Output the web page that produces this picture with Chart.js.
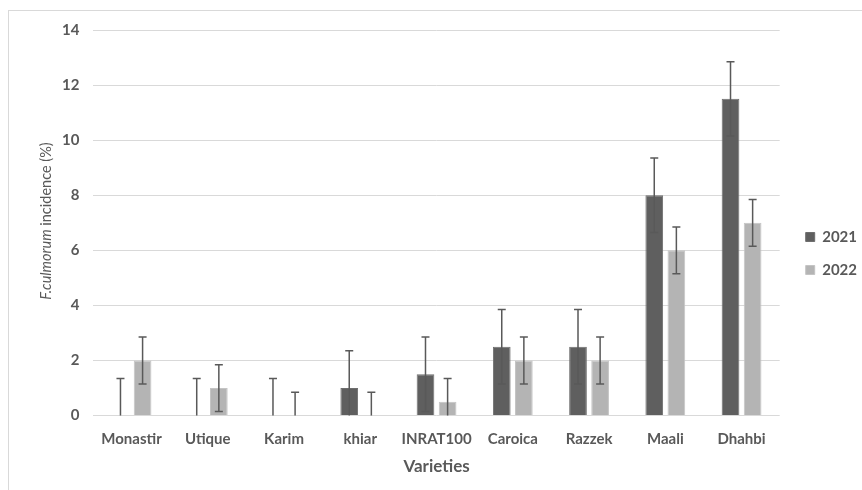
<!DOCTYPE html>
<html lang="en">
<head>
  <meta charset="UTF-8">
  <title>F.culmorum incidence</title>
  <script src="https://cdn.jsdelivr.net/npm/chart.js"></script>
  <style>
    body {
      margin: 0;
      background: #ffffff;
      font-family: 'Lato', sans-serif;
    }
    #wrap {
      position: relative;
      width: 862px;
      height: 490px;
    }
    #frame {
      position: absolute;
      left: 8px;
      top: 10px;
      width: 900px;
      height: 520px;
      border: 1px solid #d9d9d9;
      pointer-events: none;
    }
    #ytitle {
      position: absolute;
      left: 45px;
      top: 221px;
      transform: translate(-50%, -50%) rotate(-90deg);
      white-space: nowrap;
      font-size: 14.5px;
      color: #595959;
    }
  </style>
</head>
<body>
  <div id="wrap">
    <canvas id="chart" width="862" height="490"></canvas>
    <div id="frame"></div>
    <div id="ytitle"><i>F.culmorum</i> incidence (%)</div>
  </div>

  <script>
    const varieties = ['Monastir', 'Utique', 'Karim', 'khiar', 'INRAT100', 'Caroica', 'Razzek', 'Maali', 'Dhahbi'];
    const values2021 = [0, 0, 0, 1, 1.5, 2.5, 2.5, 8, 11.5];
    const values2022 = [2, 1, 0, 0, 0.5, 2, 2, 6, 7];
    const err2021 = [1.35, 1.35, 1.35, 1.35, 1.35, 1.35, 1.35, 1.35, 1.35];
    const err2022 = [0.85, 0.85, 0.85, 0.85, 0.85, 0.85, 0.85, 0.85, 0.85];
    const yTicks = [0, 2, 4, 6, 8, 10, 12, 14];

    const errors = [err2021, err2022];

    // error bars drawn on top of the bars, clipped at the axis
    const errorBars = {
      id: 'errorBars',
      afterDatasetsDraw(chart) {
        const ctx = chart.ctx;
        const y = chart.scales.y;
        const area = chart.chartArea;
        ctx.save();
        ctx.strokeStyle = '#595959';
        ctx.lineWidth = 1.5;
        chart.data.datasets.forEach((ds, i) => {
          const meta = chart.getDatasetMeta(i);
          meta.data.forEach((bar, j) => {
            const v = ds.data[j];
            const e = errors[i][j];
            const top = y.getPixelForValue(v + e);
            const low = Math.min(y.getPixelForValue(v - e), area.bottom);
            ctx.beginPath();
            ctx.moveTo(bar.x, top);
            ctx.lineTo(bar.x, low);
            ctx.moveTo(bar.x - 4, top);
            ctx.lineTo(bar.x + 4, top);
            if (v - e > 0) {
              ctx.moveTo(bar.x - 4, low);
              ctx.lineTo(bar.x + 4, low);
            }
            ctx.stroke();
          });
        });
        ctx.restore();
      }
    };

    const tickFont = { family: 'Lato', size: 15, weight: 'bold' };

    new Chart(document.getElementById('chart'), {
      type: 'bar',
      data: {
        labels: varieties,
        datasets: [
          {
            label: '2021',
            data: values2021,
            backgroundColor: '#5f5f5f',
            borderColor: '#6e6e6e',
            borderWidth: 1,
            categoryPercentage: 0.58,
            barPercentage: 0.8
          },
          {
            label: '2022',
            data: values2022,
            backgroundColor: '#b4b4b4',
            borderColor: '#c4c4c4',
            borderWidth: 1,
            categoryPercentage: 0.58,
            barPercentage: 0.8
          }
        ]
      },
      options: {
        responsive: false,
        animation: false,
        layout: {
          padding: { left: 48, right: -5, top: 30, bottom: 13 }
        },
        plugins: {
          legend: {
            position: 'right',
            labels: {
              boxWidth: 9,
              boxHeight: 9,
              padding: 18,
              color: '#595959',
              font: { family: 'Lato', size: 15, weight: 'bold' }
            }
          },
          tooltip: { enabled: false }
        },
        scales: {
          y: {
            min: 0,
            max: 14,
            afterBuildTicks(axis) {
              axis.ticks = yTicks.map(v => ({ value: v }));
            },
            border: { display: false },
            grid: { color: '#d9d9d9', lineWidth: 1, drawTicks: false },
            ticks: {
              padding: 14,
              color: '#595959',
              font: tickFont
            }
          },
          // empty right axis, only keeps a gap before the legend
          gap: {
            position: 'right',
            display: true,
            border: { display: false },
            grid: { display: false, drawTicks: false },
            ticks: { display: false },
            afterFit(axis) {
              axis.width = 8;
            }
          },
          x: {
            border: { display: false },
            grid: { display: false, drawTicks: false },
            ticks: {
              padding: 15,
              maxRotation: 0,
              autoSkip: false,
              color: '#595959',
              font: tickFont
            },
            title: {
              display: true,
              text: 'Varieties',
              color: '#595959',
              padding: { top: -7, bottom: 0 },
              font: { family: 'Lato', size: 17, weight: 'bold' }
            }
          }
        }
      },
      plugins: [errorBars]
    });
  </script>
</body>
</html>
